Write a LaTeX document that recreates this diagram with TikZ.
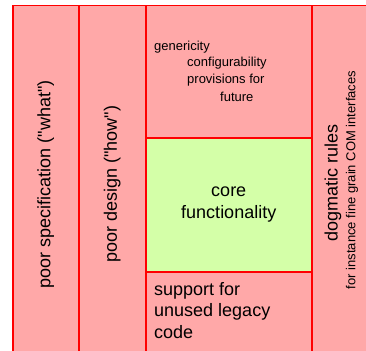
\documentclass[tikz,border=0pt]{standalone}
\usepackage{fontspec}
\setmainfont{Liberation Sans}[Ligatures=TeXOff]
\definecolor{waste}{RGB}{255,168,168}
\definecolor{useful}{RGB}{212,255,168}
\begin{document}
\begin{tikzpicture}[x=1pt, y=-1pt,
    part/.style = {draw=red, line width=1.5pt, fill=waste, inner sep=0pt, anchor=north west},
    big/.style = {font=\fontsize{18}{22}\selectfont, inner sep=0pt},
    small/.style = {font=\fontsize{13}{16.5}\selectfont, inner sep=0pt, anchor=base west}]
    \clip (0,0) rectangle (366,350);
    % columns and blocks
    \node[part, minimum width=66, minimum height=357] (spec) at (12,5) {};
    \node[part, minimum width=67, minimum height=357] (design) at (78,5) {};
    \node[part, minimum width=166, minimum height=132] (extras) at (145,5) {};
    \node[part, fill=useful, minimum width=166, minimum height=134] (core) at (145,137) {};
    \node[part, minimum width=166, minimum height=91] (legacy) at (145,271) {};
    \node[part, minimum width=66, minimum height=357] (dogma) at (311,5) {};
    % labels
    \node[big, rotate=90] (spectext) at (spec) {poor specification ("what")};
    \node[big, rotate=90] (designtext) at (design) {poor design ("how")};
    \node[small] (generic) at (154,51) {genericity};
    \node[small] (config) at (187,67) {configurability};
    \node[small] (future1) at (187,84) {provisions for};
    \node[small] (future2) at (220,101) {future};
    \node[big, align=center] (coretext) at (core) {core\\functionality};
    \node[big, align=left, anchor=north west, font=\fontsize{18}{21.7}\selectfont] (legacytext) at (154,282) {support for\\unused legacy\\code};
    \node[big, rotate=90] (dogmatext) at (333,183) {dogmatic rules};
    \node[small, rotate=90, anchor=center] (dogmanote) at (352,180) {for instance fine grain COM interfaces};
\end{tikzpicture}
\end{document}
